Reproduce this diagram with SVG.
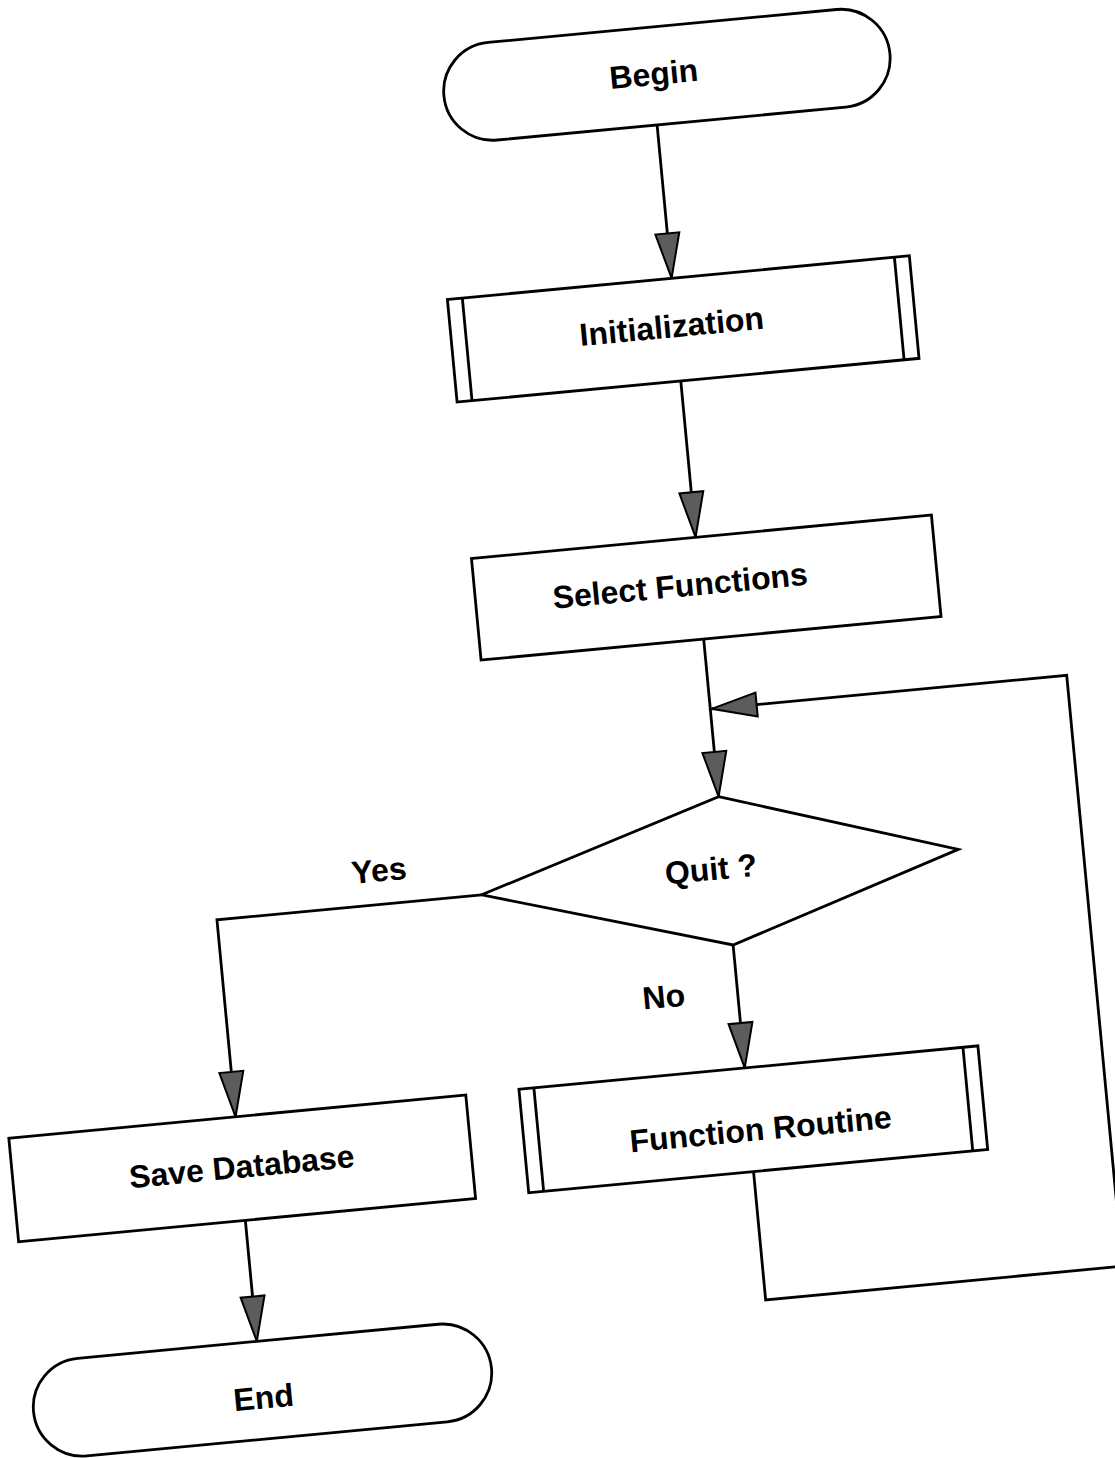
<svg xmlns="http://www.w3.org/2000/svg" width="1115" height="1458" viewBox="0 0 1115 1458">
<style>
.shape{fill:#fff;stroke:#000;stroke-width:2.8}
.bar{fill:none;stroke:#000;stroke-width:2.8}
.conn{fill:none;stroke:#000;stroke-width:2.8}
.lbl{font-family:"Liberation Sans",Arial,sans-serif;font-weight:bold;font-size:32px;fill:#000;text-anchor:middle}
</style>
<defs>
<marker id="arr" markerUnits="userSpaceOnUse" markerWidth="50" markerHeight="30" refX="45" refY="12" orient="auto" overflow="visible">
<path d="M0,0 L45,12 L0,24 Z" fill="#5c5c5c" stroke="#000" stroke-width="2"/>
</marker>
</defs>
<rect width="1115" height="1458" fill="#fff"/>
<g transform="rotate(-5.4 557 729)">
<g id="connectors">
<path class="conn" d="M713.5,137 V291" marker-end="url(#arr)"/>
<path class="conn" d="M713,394 V551" marker-end="url(#arr)"/>
<path class="conn" d="M711.5,653 V811.6" marker-end="url(#arr)"/>
<path class="conn" d="M711,1188 V1317 H1069.5 V723.5 H713" marker-end="url(#arr)"/>
<path class="conn" d="M712,960.6 V1084" marker-end="url(#arr)"/>
<path class="conn" d="M466.4,887 H200.5 V1084.8" marker-end="url(#arr)"/>
<path class="conn" d="M200.5,1189 V1310.4" marker-end="url(#arr)"/>
</g>
<g id="begin">
<rect class="shape" x="504" y="39" width="448" height="98" rx="49" ry="49"/>
<text class="lbl" x="715" y="97">Begin</text>
</g>
<g id="initialization">
<rect class="shape" x="488.3" y="291.1" width="464" height="103"/>
<line class="bar" x1="503.3" y1="291.1" x2="503.3" y2="394.1"/>
<line class="bar" x1="937.3" y1="291.1" x2="937.3" y2="394.1"/>
<text class="lbl" x="709" y="350">Initialization</text>
</g>
<g id="select-functions">
<rect class="shape" x="487.9" y="551.2" width="462" height="102"/>
<text class="lbl" x="693" y="609">Select Functions</text>
</g>
<g id="quit">
<polygon class="shape" points="711.5,811.6 945.2,886.6 712,960.6 466.4,887"/>
<text class="lbl" x="697" y="894">Quit ?</text>
</g>
<g id="yes-label"><text class="lbl" x="366.5" y="864">Yes</text></g>
<g id="no-label"><text class="lbl" x="638" y="1016.5">No</text></g>
<g id="save-database">
<rect class="shape" x="-27.25" y="1084.8" width="459" height="104"/>
<text class="lbl" x="202" y="1146">Save Database</text>
</g>
<g id="function-routine">
<rect class="shape" x="485.2" y="1084.1" width="461" height="104"/>
<line class="bar" x1="500.2" y1="1084.1" x2="500.2" y2="1188.1"/>
<line class="bar" x1="931.2" y1="1084.1" x2="931.2" y2="1188.1"/>
<text class="lbl" x="722" y="1157.5">Function Routine</text>
</g>
<g id="end">
<rect class="shape" x="-28.4" y="1310.4" width="460" height="98" rx="49" ry="49"/>
<text class="lbl" x="202" y="1378">End</text>
</g>
</g>
</svg>
